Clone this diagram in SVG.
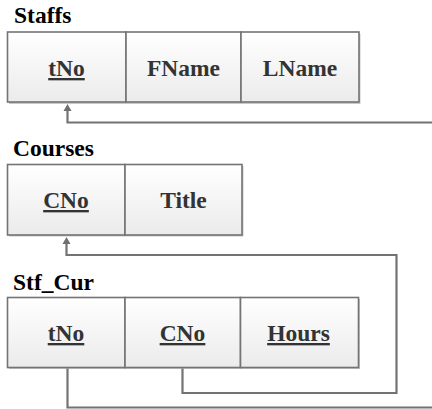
<svg xmlns="http://www.w3.org/2000/svg" width="432" height="409" viewBox="0 0 432 409">
<defs>
<linearGradient id="g" x1="0" y1="0" x2="0" y2="1">
<stop offset="0" stop-color="#ffffff"/>
<stop offset="1" stop-color="#ebebeb"/>
</linearGradient>
</defs>
<style>
text{font-family:'Liberation Serif','Times New Roman',Times,serif;font-weight:bold;font-size:23.5px}
.title{fill:#000}
.cell{fill:url(#g);stroke:#747474;stroke-width:1.6}
.shadow{fill:#c8c8c8}
.t{fill:#333;text-anchor:middle}
.u{text-decoration:underline}
.conn{fill:none;stroke:#737373;stroke-width:2.2}
.head{fill:#6f6f6f}
</style>
<g id="staffs">
<text class="title" x="14" y="23">Staffs</text>
<rect class="shadow" x="9" y="34" width="351.5" height="70"/>
<rect class="cell" x="7.5" y="32" width="118.5" height="70"/>
<rect class="cell" x="126" y="32" width="115" height="70"/>
<rect class="cell" x="241" y="32" width="118" height="70"/>
<text class="t u" x="66.5" y="76">tNo</text>
<text class="t" x="183.5" y="76">FName</text>
<text class="t" x="300" y="76">LName</text>
</g>
<g id="courses">
<text class="title" x="13" y="156">Courses</text>
<rect class="shadow" x="9" y="166" width="234.5" height="70.5"/>
<rect class="cell" x="7.5" y="164.5" width="117.5" height="70.5"/>
<rect class="cell" x="125" y="164.5" width="117" height="70.5"/>
<text class="t u" x="66" y="208">CNo</text>
<text class="t" x="183.5" y="208">Title</text>
</g>
<g id="stf_cur">
<text class="title" x="13" y="290">Stf_Cur</text>
<rect class="shadow" x="9" y="299" width="351" height="70"/>
<rect class="cell" x="7.5" y="297.5" width="117.5" height="70"/>
<rect class="cell" x="125" y="297.5" width="115.5" height="70"/>
<rect class="cell" x="240.5" y="297.5" width="118" height="70"/>
<text class="t u" x="66" y="341">tNo</text>
<text class="t u" x="182.5" y="341">CNo</text>
<text class="t u" x="298.5" y="341">Hours</text>
</g>
<g id="connectors">
<path class="conn" d="M67.5,368.5 V407.5 H440 V122.5 H67.5 V111"/>
<path class="head" d="M63.5,111 L67.5,104 L71.5,111 Z"/>
<path class="conn" d="M182.5,368.5 V393 H396.5 V255 H66.5 V244"/>
<path class="head" d="M62.5,244 L66.5,237 L70.5,244 Z"/>
</g>
</svg>
